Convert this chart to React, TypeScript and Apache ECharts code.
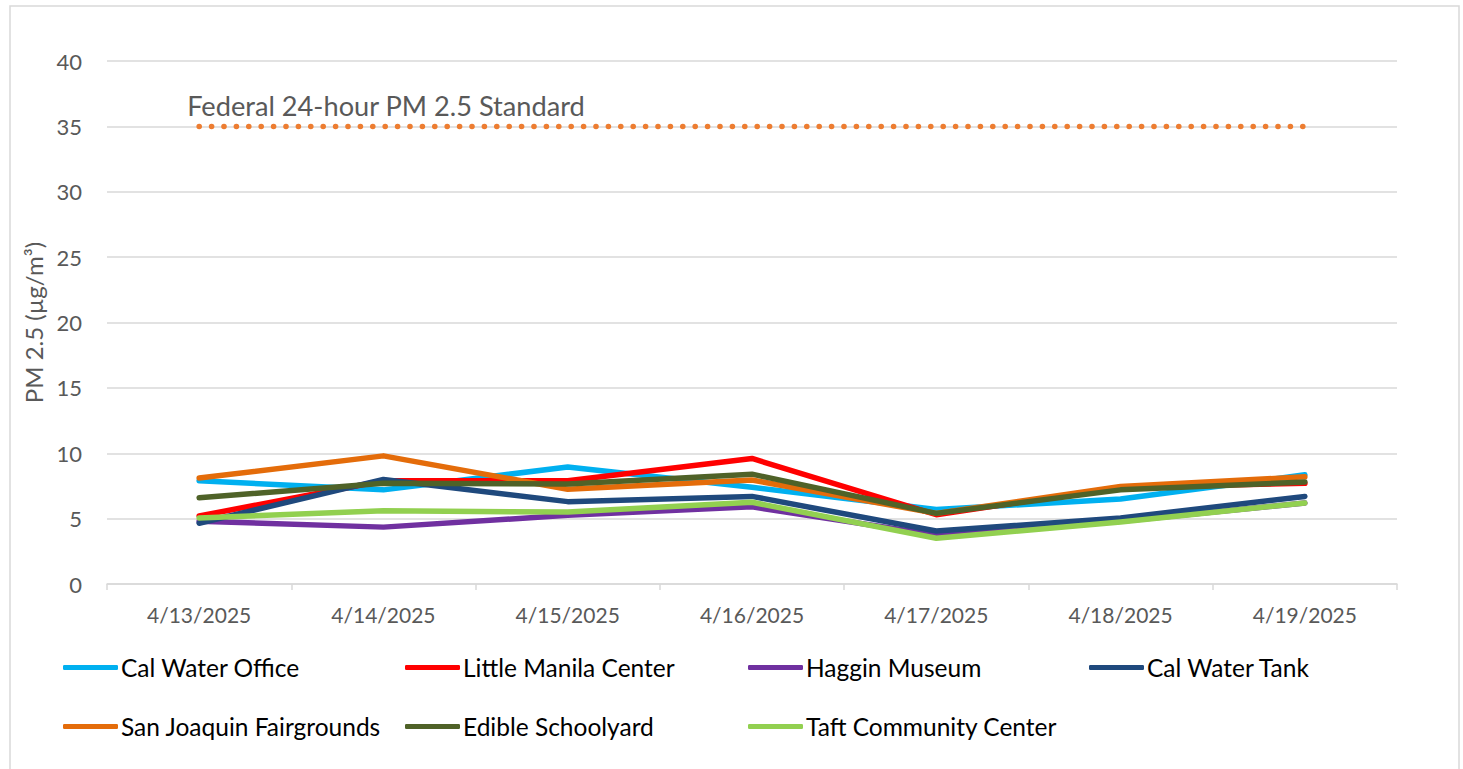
import React, { useEffect, useRef } from "react";
import * as echarts from "echarts";

const dates = ["4/13/2025", "4/14/2025", "4/15/2025", "4/16/2025", "4/17/2025", "4/18/2025", "4/19/2025"];
const yTicks = [0, 5, 10, 15, 20, 25, 30, 35, 40];

const calWaterOffice = [7.9, 7.2, 8.95, 7.4, 5.7, 6.5, 8.35];
const littleManila = [5.2, 7.9, 7.9, 9.6, 5.3, 7.4, 7.7];
const hagginMuseum = [4.8, 4.35, 5.25, 5.9, 3.75, 4.8, 6.2];
const calWaterTank = [4.65, 8.0, 6.3, 6.7, 4.05, 5.05, 6.7];
const sanJoaquin = [8.1, 9.8, 7.25, 7.95, 5.4, 7.45, 8.2];
const edibleSchoolyard = [6.6, 7.7, 7.65, 8.4, 5.4, 7.2, 7.8];
const taftCommunity = [5.05, 5.6, 5.5, 6.25, 3.5, 4.75, 6.2];
const federalStandard = [35, 35, 35, 35, 35, 35, 35];
const standardLabel = "Federal 24-hour PM 2.5 Standard";

const seriesDefs = [
  { name: "Cal Water Office", data: calWaterOffice, color: "#00B0F0" },
  { name: "Little Manila Center", data: littleManila, color: "#FF0000" },
  { name: "Haggin Museum", data: hagginMuseum, color: "#7030A0" },
  { name: "Cal Water Tank", data: calWaterTank, color: "#1F497D" },
  { name: "San Joaquin Fairgrounds", data: sanJoaquin, color: "#E46C0A" },
  { name: "Edible Schoolyard", data: edibleSchoolyard, color: "#4F6228" },
  { name: "Taft Community Center", data: taftCommunity, color: "#92D050" },
];

const legendPos = [
  { left: 63, top: 655 },
  { left: 405, top: 655 },
  { left: 748, top: 655 },
  { left: 1089, top: 655 },
  { left: 63, top: 714 },
  { left: 405, top: 714 },
  { left: 748, top: 714 },
];

const FONT = "Lato, 'Open Sans', sans-serif";

export default function App() {
  const ref = useRef<HTMLDivElement>(null);
  useEffect(() => {
    if (!ref.current) return;
    const chart = echarts.init(ref.current, undefined, { renderer: "svg" });
    const option: any = {
      animation: false,
      backgroundColor: "#ffffff",
      textStyle: { fontFamily: FONT },
      grid: { left: 107, right: 66, top: 61, bottom: 185, containLabel: false },
      graphic: [
        {
          type: "rect",
          shape: { x: 10, y: 6, width: 1449, height: 800 },
          style: { fill: "none", stroke: "#D9D9D9", lineWidth: 1.5 },
          silent: true,
        },
      ],
      legend: seriesDefs.map((s, i) => ({
        data: [s.name],
        left: legendPos[i].left,
        top: legendPos[i].top,
        padding: 0,
        itemWidth: 55,
        itemHeight: 5,
        icon: "roundRect",
        selectedMode: false,
        textStyle: { fontSize: 24.5, color: "#000000", fontFamily: FONT, padding: [0, 0, 0, -2] },
      })),
      xAxis: {
        type: "category",
        data: dates,
        boundaryGap: true,
        axisLine: { lineStyle: { color: "#D9D9D9", width: 1.5 } },
        axisTick: { show: true, length: 6, lineStyle: { color: "#D9D9D9", width: 1.5 } },
        axisLabel: { fontSize: 21, color: "#595959", margin: 20, fontFamily: FONT },
        splitLine: { show: false },
      },
      yAxis: {
        type: "value",
        min: 0,
        max: 40,
        interval: 5,
        name: "PM 2.5 (µg/m³)",
        nameLocation: "middle",
        nameGap: 57,
        nameRotate: 90,
        nameTextStyle: { fontSize: 24, color: "#595959", fontFamily: FONT },
        axisLine: { show: false },
        axisTick: { show: false },
        axisLabel: {
          fontSize: 22,
          color: "#595959",
          margin: 25,
          fontFamily: FONT,
          formatter: (v: number) => (yTicks.includes(v) ? String(v) : ""),
        },
        splitLine: { lineStyle: { color: "#D9D9D9", width: 1.5 } },
      },
      series: [
        {
          name: "Federal Standard",
          type: "line",
          data: federalStandard,
          symbol: "none",
          silent: true,
          lineStyle: { color: "#ED7D31", width: 5.5, type: [0.1, 12.3], cap: "round" },
          markPoint: {
            silent: true,
            symbol: "rect",
            symbolSize: 1,
            itemStyle: { color: "rgba(0,0,0,0)" },
            data: [
              {
                coord: [dates[0], federalStandard[0]],
                label: {
                  show: true,
                  position: "top",
                  align: "left",
                  distance: 7,
                  offset: [-12, 0],
                  formatter: standardLabel,
                  fontSize: 27.2,
                  color: "#595959",
                  fontFamily: FONT,
                },
              },
            ],
          },
          z: 1,
        },
        ...seriesDefs.map((s, i) => ({
          name: s.name,
          type: "line",
          data: s.data,
          symbol: "none",
          itemStyle: { color: s.color },
          lineStyle: { color: s.color, width: 5.5, cap: "round", join: "round" },
          z: 2 + i,
        })),
      ],
    };
    chart.setOption(option);
    return () => chart.dispose();
  }, []);
  return (
    <div
      ref={ref}
      style={{ position: "fixed", left: 0, top: 0, width: 1463, height: 769 }}
    />
  );
}
